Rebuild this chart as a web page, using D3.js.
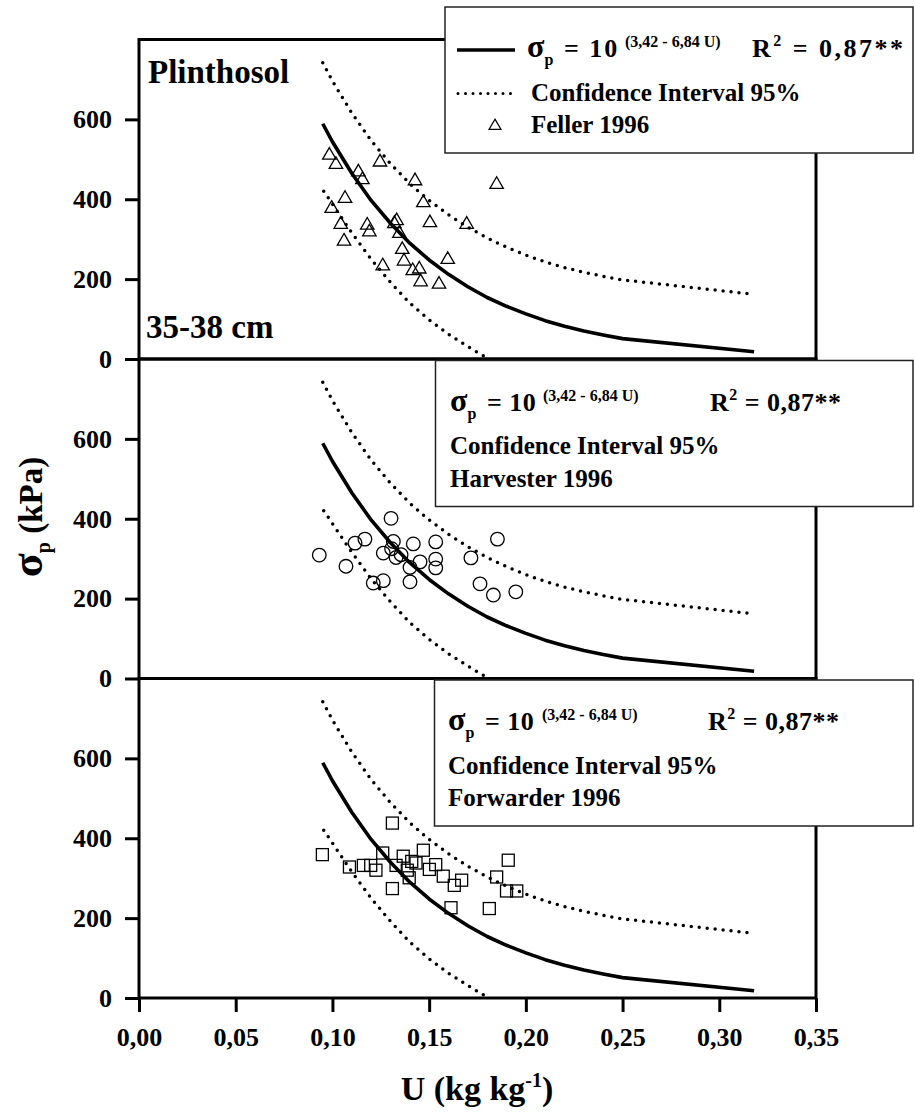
<!DOCTYPE html>
<html><head><meta charset="utf-8">
<script src="https://cdn.jsdelivr.net/npm/d3@7"></script>
<style>
html,body{margin:0;padding:0;background:#fff;}
text{font-family:"Liberation Serif","Times New Roman",serif;font-weight:bold;fill:#000;}
</style></head>
<body><svg id="c" width="915" height="1115"></svg>
<script>
// ---- data ----
const xTicks = [0, 0.05, 0.10, 0.15, 0.20, 0.25, 0.30, 0.35];
const yTicks = [0, 200, 400, 600];
const fitU     = [0.095,0.10,0.11,0.12,0.13,0.14,0.15,0.16,0.17,0.18,0.19,0.20,0.21,0.22,0.23,0.24,0.25,0.318];
const fitSigma = [589,544,465,397,340,290,248,212,181,154,132,113,96,82,70,60,51,18];
const upperU     = [0.095,0.10,0.11,0.12,0.13,0.14,0.15,0.16,0.17,0.18,0.19,0.20,0.21,0.22,0.23,0.24,0.25,0.318];
const upperSigma = [742,696,616,547,489,439,397,361,330,303,280,260,243,229,217,207,198,162];
const lowerU     = [0.0955,0.10,0.11,0.12,0.13,0.14,0.15,0.16,0.17,0.179];
const lowerSigma = [420,388,316,250,192,140,98,62,31,5];
const fellerU = [0.0984,0.1018,0.1134,0.1155,0.1246,0.1427,0.1849,0.1065,0.0996,0.147,0.1043,0.118,0.1191,0.1332,0.132,0.1346,0.1504,0.1694,0.106,0.1361,0.137,0.1415,0.1449,0.1596,0.126,0.1456,0.1551];
const fellerSigma = [510,487,468,449,493,446,437,402,377,391,337,335,318,346,339,314,341,337,295,274,245,221,225,249,233,193,187];
const harvesterU = [0.0932,0.107,0.1117,0.1168,0.1211,0.1263,0.1303,0.1263,0.1315,0.1306,0.1329,0.1355,0.1401,0.1418,0.1453,0.1401,0.1534,0.1534,0.1534,0.1716,0.1763,0.1832,0.1853,0.1948];
const harvesterSigma = [309,281,339,349,239,245,401,314,343,325,303,310,278,337,292,242,342,299,277,302,237,209,349,217];
const forwarderU = [0.0948,0.1088,0.116,0.1198,0.1225,0.126,0.131,0.131,0.1329,0.1366,0.1387,0.1397,0.1432,0.147,0.1501,0.1534,0.1573,0.163,0.1668,0.1613,0.1811,0.1849,0.1909,0.19,0.1953,0.141];
const forwarderSigma = [359,328,332,332,320,363,438,274,332,355,320,301,338,370,322,334,305,282,295,226,224,303,345,268,268,342];
const seriesNames = ["Feller 1996","Harvester 1996","Forwarder 1996"];
const eqText = "(3,42 - 6,84 U)";
const r2Text = " = 0,87**";

// ---- layout ----
const svg = d3.select("#c");
const x = d3.scaleLinear().domain([0,0.35]).range([139,816]);
const bottoms = [359, 678.5, 998];
const H = 319.5;
const zip = (a,b) => a.map((v,i)=>[v,b[i]]);

const panels = [
  {u: fellerU, s: fellerSigma, type:"tri"},
  {u: harvesterU, s: harvesterSigma, type:"circ"},
  {u: forwarderU, s: forwarderSigma, type:"sq"}
];

panels.forEach((p,i)=>{
  const y = d3.scaleLinear().domain([0,800]).range([bottoms[i], bottoms[i]-H]);
  const g = svg.append("g");
  const line = d3.line().x(d=>x(d[0])).y(d=>y(d[1]));
  g.append("path").attr("d", line(zip(upperU,upperSigma))).attr("fill","none")
    .attr("stroke","#000").attr("stroke-width",3.5).attr("stroke-linecap","round").attr("stroke-dasharray","0 8");
  g.append("path").attr("d", line(zip(lowerU,lowerSigma))).attr("fill","none")
    .attr("stroke","#000").attr("stroke-width",3.5).attr("stroke-linecap","round").attr("stroke-dasharray","0 8");
  g.append("path").attr("d", line(zip(fitU,fitSigma))).attr("fill","none")
    .attr("stroke","#000").attr("stroke-width",3.6).attr("stroke-linejoin","round");
  const pts = zip(p.u,p.s);
  if (p.type==="tri"){
    g.selectAll("path.pt").data(pts).join("path").attr("class","pt")
      .attr("d", d3.symbol(d3.symbolTriangle, 78)())
      .attr("transform", d=>`translate(${x(d[0])},${y(d[1])})`)
      .attr("fill","none").attr("stroke","#000").attr("stroke-width",1.3);
  } else if (p.type==="circ"){
    g.selectAll("circle").data(pts).join("circle")
      .attr("cx", d=>x(d[0])).attr("cy", d=>y(d[1])).attr("r",6.8)
      .attr("fill","none").attr("stroke","#000").attr("stroke-width",1.3);
  } else {
    g.selectAll("rect").data(pts).join("rect")
      .attr("x", d=>x(d[0])-6).attr("y", d=>y(d[1])-6).attr("width",12).attr("height",12)
      .attr("fill","none").attr("stroke","#000").attr("stroke-width",1.3);
  }
  const ax = svg.append("g").attr("transform",`translate(139,0)`)
    .call(d3.axisLeft(y).tickValues(yTicks).tickSize(14).tickPadding(13).tickFormat(d3.format("d")));
  ax.attr("font-size",null).attr("font-family",null);
  ax.select(".domain").remove();
  ax.selectAll("line").attr("stroke","#000").attr("stroke-width",3);
  ax.selectAll("text").style("font-size","26px");
});

panels.forEach((p,i)=>{
  svg.append("rect").attr("x",139).attr("y",bottoms[i]-H).attr("width",816-139).attr("height",H)
    .attr("fill","none").attr("stroke","#000").attr("stroke-width",3);
});

const xa = svg.append("g").attr("transform",`translate(0,${bottoms[2]})`)
  .call(d3.axisBottom(x).tickValues(xTicks).tickSize(14).tickPadding(16).tickFormat(d=>d.toFixed(2).replace(".",",")));
xa.attr("font-size",null).attr("font-family",null);
xa.select(".domain").remove();
xa.selectAll("line").attr("stroke","#000").attr("stroke-width",3);
xa.selectAll("text").style("font-size","26px");

// legends
const legs = [
  {x0:445, y0:7,   sx:527, ex:564, ls:2, sup:625, rx:752, sample:true},
  {x0:435.5, y0:360.5, sx:450, ex:487, ls:0.5, sup:543, rx:710, sample:false},
  {x0:434.5, y0:680, sx:448, ex:485, ls:0.5, sup:542, rx:708, sample:false}
];
legs.forEach((L,i)=>{
  const g = svg.append("g");
  g.append("rect").attr("x",L.x0).attr("y",L.y0).attr("width",913-L.x0).attr("height",146)
    .attr("fill","#fff").attr("stroke","#222").attr("stroke-width",1.5);
  const b1 = L.y0+50, b2 = L.y0+93.5, b3 = L.y0+126;
  if (L.sample){
    g.append("line").attr("x1",457).attr("x2",515).attr("y1",b1-7).attr("y2",b1-7).attr("stroke","#000").attr("stroke-width",3.6);
    g.append("line").attr("x1",458).attr("x2",515).attr("y1",b2-7).attr("y2",b2-7).attr("stroke","#000")
      .attr("stroke-width",3).attr("stroke-linecap","round").attr("stroke-dasharray","0 7.5");
    g.append("path").attr("d", d3.symbol(d3.symbolTriangle, 62)()).attr("transform",`translate(495,${b3-7})`)
      .attr("fill","none").attr("stroke","#000").attr("stroke-width",1.2);
  }
  const t = g.append("text").attr("x",L.sx).attr("y",b1).style("font-size","26px");
  t.append("tspan").text("σ").style("font-size","32px");
  t.append("tspan").text("p").style("font-size","16px").attr("dy",8);
  t.append("tspan").text("= 10").attr("x",L.ex).attr("dy",-8).style("letter-spacing",L.ls+"px");
  g.append("text").attr("x",L.sup).attr("y",b1-10).style("font-size","16px").text(eqText);
  const r = g.append("text").attr("x",L.rx).attr("y",b1).style("font-size","26px").style("letter-spacing",(L.sample?2.5:0.5)+"px");
  r.append("tspan").text("R");
  r.append("tspan").text("2").style("font-size","16px").attr("dy",-11);
  r.append("tspan").text(r2Text).attr("dy",11);
  g.append("text").attr("x",L.sample?531:L.sx).attr("y",b2).style("font-size","25px").text("Confidence Interval 95%");
  g.append("text").attr("x",L.sample?531:L.sx).attr("y",b3).style("font-size","25px").text(seriesNames[i]);
});

svg.append("text").attr("x",148).attr("y",83).style("font-size","33px").text("Plinthosol");
svg.append("text").attr("x",146).attr("y",338).style("font-size","33px").text("35-38 cm");

const yt = svg.append("text").attr("transform","translate(42,517) rotate(-90)").attr("text-anchor","middle").style("font-size","33px");
yt.append("tspan").text("σ").style("font-size","44px");
yt.append("tspan").text("p").style("font-size","20px").attr("dy",8);
yt.append("tspan").text(" (kPa)").attr("dy",-8);

const xt = svg.append("text").attr("x",477).attr("y",1100).attr("text-anchor","middle").style("font-size","34px");
xt.append("tspan").text("U (kg kg");
xt.append("tspan").text("-1").style("font-size","20px").attr("dy",-13);
xt.append("tspan").text(")").attr("dy",13);
</script></body></html>
